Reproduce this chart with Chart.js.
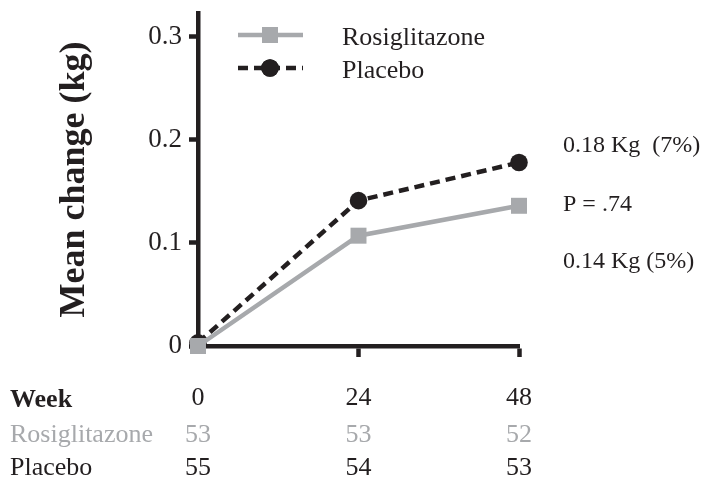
<!DOCTYPE html>
<html lang="en">
<head>
  <meta charset="UTF-8">
  <title>Mean change (kg)</title>
  <script src="https://cdn.jsdelivr.net/npm/chart.js"></script>
  <style>
    html, body { margin: 0; padding: 0; background: #fff; }
  </style>
</head>
<body>
  <canvas id="weightChart" width="702" height="486"></canvas>

  <script>
    // values
    const weeks = [0, 24, 48];
    const rosiValues = [0, 0.107, 0.136];
    const placeboValues = [0.003, 0.141, 0.178];
    const yTicks = [0, 0.1, 0.2, 0.3];
    const rosiCounts = [53, 53, 52];
    const placeboCounts = [55, 54, 53];
    const seriesNames = ['Rosiglitazone', 'Placebo'];
    const rowTitle = 'Week';
    const notes = ['0.18 Kg  (7%)', 'P = .74', '0.14 Kg (5%)'];

    const ink = '#231f20';
    const grey = '#a7a9ac';
    const serif = '"Liberation Serif", "Times New Roman", serif';

    // legend, side notes and the n-at-risk table
    const extras = {
      id: 'extras',
      afterDraw(chart) {
        const ctx = chart.ctx;
        const x = chart.scales.x;
        ctx.save();

        // legend
        chart.data.datasets.forEach((ds, i) => {
          const y = 35 + i * 33;
          ctx.strokeStyle = ds.borderColor;
          ctx.lineWidth = ds.borderWidth;
          ctx.setLineDash(ds.borderDash || []);
          ctx.beginPath();
          ctx.moveTo(238, y);
          ctx.lineTo(303, y);
          ctx.stroke();
          ctx.setLineDash([]);
          ctx.fillStyle = ds.backgroundColor;
          Chart.helpers.drawPoint(ctx, {pointStyle: ds.pointStyle, radius: ds.pointRadius, borderWidth: 0}, 270, y);
          ctx.fill();
          ctx.fillStyle = ink;
          ctx.font = '26px ' + serif;
          ctx.textAlign = 'left';
          ctx.textBaseline = 'alphabetic';
          ctx.fillText(ds.label, 342, y + 10);
        });

        // notes on the right
        ctx.font = '24px ' + serif;
        ctx.fillStyle = ink;
        ctx.textAlign = 'left';
        [152, 211, 268].forEach((by, i) => ctx.fillText(notes[i], 563, by));

        // table under the axis
        ctx.font = 'bold 26px ' + serif;
        ctx.fillText(rowTitle, 10, 407);
        ctx.font = '26px ' + serif;
        ctx.fillStyle = grey;
        ctx.fillText(seriesNames[0], 10, 442);
        ctx.fillStyle = ink;
        ctx.fillText(seriesNames[1], 10, 475);
        ctx.textAlign = 'center';
        weeks.forEach((w, i) => {
          const px = x.getPixelForValue(w);
          ctx.fillStyle = grey;
          ctx.fillText(rosiCounts[i], px, 442);
          ctx.fillStyle = ink;
          ctx.fillText(placeboCounts[i], px, 475);
        });
        ctx.restore();
      }
    };

    const ctx = document.getElementById('weightChart').getContext('2d');
    const weightChart = new Chart(ctx, {
      type: 'line',
      data: {
        datasets: [{
          label: seriesNames[0],
          data: weeks.map((w, i) => ({x: w, y: rosiValues[i]})),
          borderColor: grey,
          backgroundColor: grey,
          borderWidth: 4.5,
          pointStyle: 'rect',
          pointRadius: 11.3,
          pointBorderWidth: 0,
          clip: false
        }, {
          label: seriesNames[1],
          data: weeks.map((w, i) => ({x: w, y: placeboValues[i]})),
          borderColor: ink,
          backgroundColor: ink,
          borderWidth: 4.5,
          borderDash: [10, 6],
          pointStyle: 'circle',
          pointRadius: 8.8,
          pointBorderWidth: 0,
          clip: false
        }]
      },
      options: {
        responsive: false,
        animation: false,
        layout: { padding: { left: 0, right: 183, top: 13, bottom: 0 } },
        plugins: { legend: { display: false }, tooltip: { enabled: false } },
        scales: {
          x: {
            type: 'linear',
            min: 0,
            max: 48,
            afterBuildTicks: s => { s.ticks = weeks.map(v => ({value: v})); },
            afterFit: s => { s.height = 140; s.paddingLeft = 0; s.paddingRight = 0; },
            border: { color: ink, width: 4.5 },
            grid: {
              drawOnChartArea: false,
              drawTicks: true,
              tickLength: 11,
              // the week-0 tick sits under the first marker in the original
              tickColor: c => (c.tick && c.tick.value === 0) ? 'rgba(0,0,0,0)' : ink,
              tickWidth: 4.5
            },
            ticks: { color: ink, font: { family: serif, size: 26 }, padding: 26, maxRotation: 0 }
          },
          y: {
            min: 0,
            max: 0.323,
            afterBuildTicks: s => { s.ticks = yTicks.map(v => ({value: v})); },
            afterFit: s => { s.width = 198; s.paddingTop = 0; s.paddingBottom = 0; },
            border: { color: ink, width: 4.5 },
            grid: { drawOnChartArea: false, drawTicks: true, tickLength: 9, tickColor: ink, tickWidth: 4.5 },
            ticks: {
              color: ink,
              font: { family: serif, size: 27, lineHeight: 1 },
              padding: 7,
              callback: v => v === 0 ? '0' : v.toFixed(1)
            },
            title: {
              display: true,
              text: 'Mean change (kg)',
              color: ink,
              font: { family: serif, size: 36, weight: 'bold' },
              padding: { top: 53, bottom: 0 }
            }
          }
        }
      },
      plugins: [extras]
    });
  </script>
</body>
</html>
